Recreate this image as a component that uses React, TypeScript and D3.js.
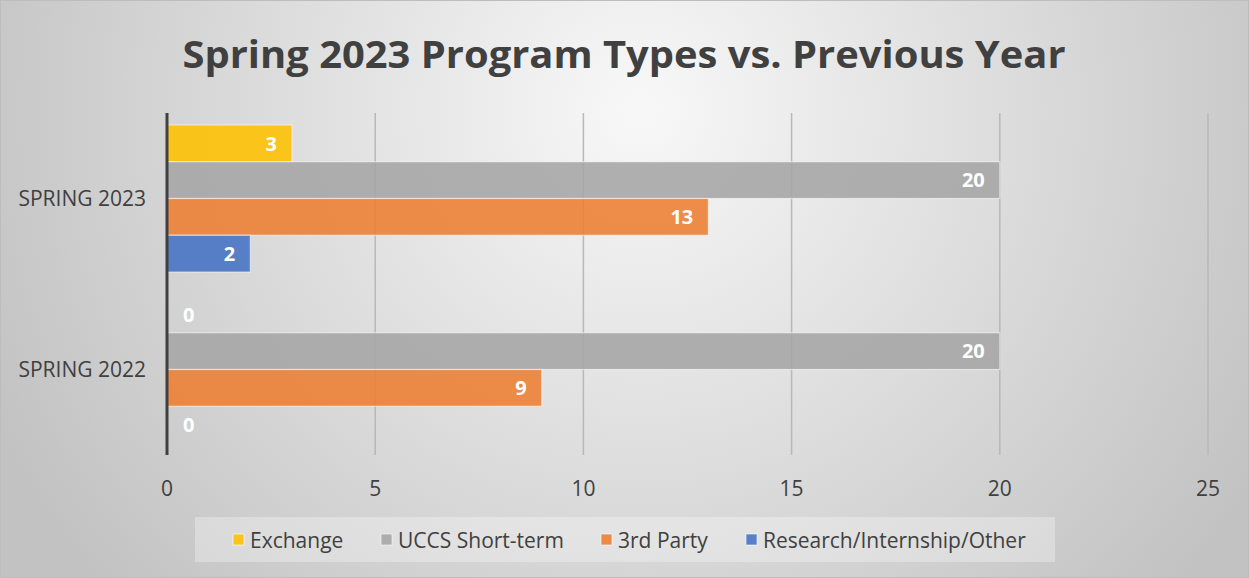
import React, { useEffect } from "react";
import * as d3 from "d3";

const categories = ["SPRING 2023", "SPRING 2022"];
const seriesNames = ["Exchange", "UCCS Short-term", "3rd Party", "Research/Internship/Other"];
const exchange = [3, 0];
const uccsShortTerm = [20, 20];
const thirdParty = [13, 9];
const research = [2, 0];
const xTicks = [0, 5, 10, 15, 20, 25];
const seriesColors = ["#FFC000", "#A5A5A5", "#ED7D31", "#4472C4"];
const legendX = [233, 381, 601, 746];

const W = 1249;
const H = 578;
const FONT = "'Open Sans', 'DejaVu Sans', sans-serif";

export default function App() {
  useEffect(() => {
    document.body.style.margin = "0";
  }, []);

  const values = [exchange, uccsShortTerm, thirdParty, research];
  const x = d3.scaleLinear().domain([0, 25]).range([167, 1208]);
  const y0 = d3.scaleBand<string>().domain(categories).range([113, 455]).paddingInner(0.14).paddingOuter(0.07);
  const y1 = d3.scaleBand<string>().domain(seriesNames).range([0, y0.bandwidth()]);

  return (
    <svg width={W} height={H} style={{ display: "block" }} fontFamily={FONT}>
      <defs>
        <radialGradient id="bg" gradientUnits="userSpaceOnUse" cx={640} cy={110} r={720}>
          <stop offset="0" stopColor="#f8f8f8" />
          <stop offset="1" stopColor="#c2c2c2" />
        </radialGradient>
      </defs>
      <rect x={0.5} y={0.5} width={W - 1} height={H - 1} fill="url(#bg)" stroke="#bdbdbd" strokeWidth={1} />
      <text x={624} y={68} textAnchor="middle" fontSize={38} fontWeight={700} fill="#404040" textLength={883} lengthAdjust="spacingAndGlyphs">
        Spring 2023 Program Types vs. Previous Year
      </text>

      {/* gridlines */}
      {xTicks.slice(1).map((t) => (
        <line key={t} x1={x(t)} x2={x(t)} y1={113} y2={455} stroke="#b8b8b8" strokeWidth={1.5} />
      ))}

      {/* bars */}
      {categories.map((c, ci) => (
        <g key={c} transform={`translate(0,${y0(c)})`}>
          {seriesNames.map((s, si) => {
            const v = values[si][ci];
            const by = y1(s)!;
            const bh = y1.bandwidth();
            return (
              <g key={s}>
                {v > 0 && (
                  <rect x={x(0)} y={by} width={x(v) - x(0)} height={bh} fill={seriesColors[si]} fillOpacity={0.88} stroke="#ffffff" strokeOpacity={0.55} strokeWidth={1.2} />
                )}
                <text
                  x={v > 0 ? x(v) - 15 : x(0) + 16}
                  y={by + bh / 2}
                  dy="0.36em"
                  textAnchor={v > 0 ? "end" : "start"}
                  fontSize={20}
                  fontWeight={700}
                  fill="#ffffff"
                >
                  {v}
                </text>
              </g>
            );
          })}
        </g>
      ))}

      {/* axis line */}
      <line x1={x(0)} x2={x(0)} y1={113} y2={455} stroke="#404040" strokeWidth={3} />

      {/* tick labels */}
      {xTicks.map((t) => (
        <text key={t} x={x(t)} y={488} dy="0.36em" textAnchor="middle" fontSize={21} fill="#404040">
          {t}
        </text>
      ))}

      {/* category labels */}
      {categories.map((c) => (
        <text key={c} x={146} y={y0(c)! + y0.bandwidth() / 2} dy="0.36em" textAnchor="end" fontSize={21} fill="#404040">
          {c}
        </text>
      ))}

      {/* legend */}
      <rect x={195} y={517} width={860} height={45} fill="#ffffff" fillOpacity={0.3} />
      {seriesNames.map((s, i) => (
        <g key={s}>
          <rect x={legendX[i]} y={534} width={11} height={11} fill={seriesColors[i]} fillOpacity={0.88} stroke="#ffffff" strokeOpacity={0.6} />
          <text x={legendX[i] + 17} y={540} dy="0.36em" fontSize={21} fill="#404040">
            {s}
          </text>
        </g>
      ))}
    </svg>
  );
}
